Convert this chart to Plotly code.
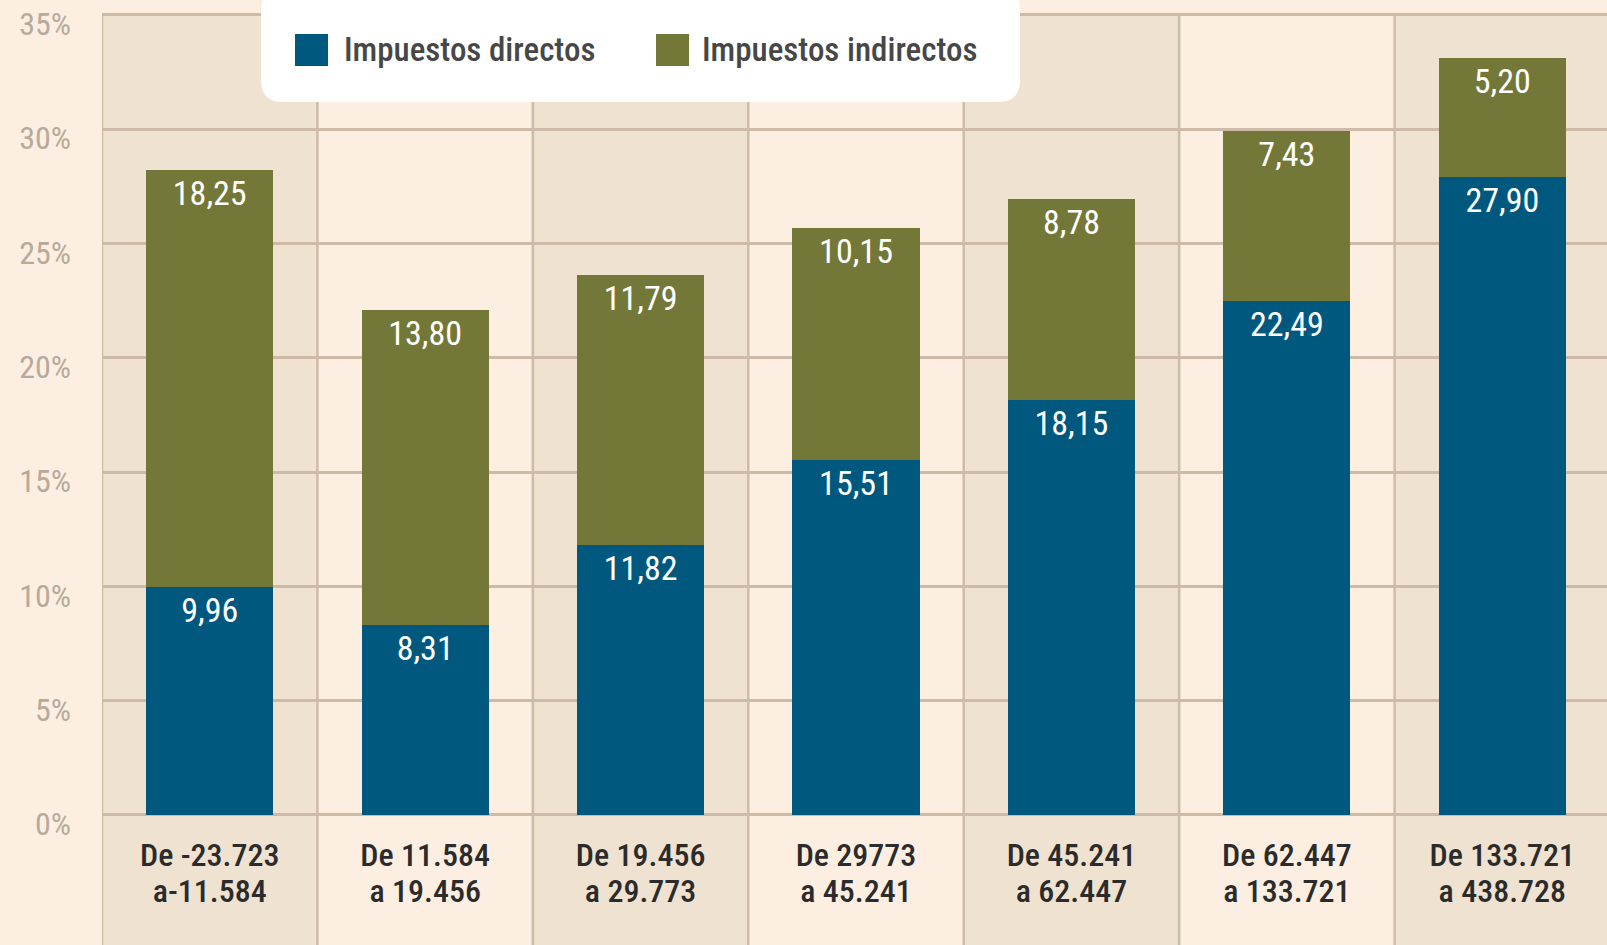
import plotly.graph_objects as go

rango_desde = ["De -23.723", "De 11.584", "De 19.456", "De 29773", "De 45.241", "De 62.447", "De 133.721"]
rango_hasta = ["a-11.584", "a 19.456", "a 29.773", "a 45.241", "a 62.447", "a 133.721", "a 438.728"]
directos = [9.96, 8.31, 11.82, 15.51, 18.15, 22.49, 27.90]
indirectos = [18.25, 13.80, 11.79, 10.15, 8.78, 7.43, 5.20]
y_ticks = [0, 5, 10, 15, 20, 25, 30, 35]
y_ticktext = ["0%", "5%", "10%", "15%", "20%", "25%", "30%", "35%"]

FONT = "Roboto Condensed, Liberation Sans Narrow, DejaVu Sans Condensed, Roboto, sans-serif"
BLUE = "#01587f"
OLIVE = "#737838"
GRID = "#cdbba8"
DARK_BAND = "#f0e2d1"
LIGHT_BAND = "#fcefe2"

W, H = 1607, 945
ML, MT = 102, 8
Y_TOP = 35
Y_MIN, Y_MAX = -5.69, 35.3
X_MIN, X_MAX = -0.5, 6.486

xs = list(range(len(rango_desde)))

fig = go.Figure()
fig.add_trace(go.Bar(
    x=xs, y=directos, name="Impuestos directos", marker=dict(color=BLUE, line=dict(width=0)),
    text=[f"{v:.2f}".replace(".", ",") for v in directos],
    textposition="inside", insidetextanchor="end", textangle=0,
    textfont=dict(color="white", size=34, family=FONT), showlegend=False,
))
fig.add_trace(go.Bar(
    x=xs, y=indirectos, name="Impuestos indirectos", marker=dict(color=OLIVE, line=dict(width=0)),
    text=[f"{v:.2f}".replace(".", ",") for v in indirectos],
    textposition="inside", insidetextanchor="end", textangle=0,
    textfont=dict(color="white", size=34, family=FONT), showlegend=False,
))
# invisible helper trace so the second (lower) category axis line is rendered
fig.add_trace(go.Scatter(
    x=xs, y=[0] * len(xs), xaxis="x2", yaxis="y", mode="markers",
    marker=dict(opacity=0, size=1), hoverinfo="skip", showlegend=False,
))

shapes = []
for i in xs:
    shapes.append(dict(type="rect", xref="x", yref="y", x0=i - 0.5, x1=i + 0.5,
                       y0=Y_MIN, y1=Y_TOP, fillcolor=DARK_BAND if i % 2 == 0 else LIGHT_BAND,
                       line=dict(width=0), layer="below"))
for i in xs + [len(xs)]:
    shapes.append(dict(type="line", xref="x", yref="y", x0=i - 0.5, x1=i - 0.5,
                       y0=Y_MIN, y1=Y_TOP, line=dict(color=GRID, width=2.5), layer="below"))

# legend box (rounded, white)
pw = W - ML
ph = H - MT
def px_x(p):
    return (p - ML) / pw
def px_y(p):
    return (H - p) / ph
x0, x1 = px_x(261), px_x(1020)
y0, y1 = px_y(102), px_y(-12)
rx, ry = 22 / pw, 22 / ph
path = (f"M{x0+rx},{y0} L{x1-rx},{y0} Q{x1},{y0} {x1},{y0+ry} L{x1},{y1-ry} Q{x1},{y1} {x1-rx},{y1} "
        f"L{x0+rx},{y1} Q{x0},{y1} {x0},{y1-ry} L{x0},{y0+ry} Q{x0},{y0} {x0+rx},{y0} Z")
shapes.append(dict(type="path", xref="paper", yref="paper", path=path,
                   fillcolor="white", line=dict(width=0), layer="above"))
legend_items = [("Impuestos directos", BLUE, 295, 342), ("Impuestos indirectos", OLIVE, 656, 700)]
annotations = []
for label, col, sx, tx in legend_items:
    shapes.append(dict(type="rect", xref="paper", yref="paper",
                       x0=px_x(sx), x1=px_x(sx + 33), y0=px_y(66), y1=px_y(34),
                       fillcolor=col, line=dict(width=0), layer="above"))
    annotations.append(dict(xref="paper", yref="paper", x=px_x(tx), y=px_y(50),
                            xanchor="left", yanchor="middle", text=label, showarrow=False,
                            font=dict(family=FONT, size=33, color="#474747", weight=500)))

pos0 = (0 - Y_MIN) / (Y_MAX - Y_MIN)
xfont = dict(family=FONT, size=32, color="#2b2b2b", weight=500)
fig.update_layout(
    width=W, height=H,
    margin=dict(l=ML, r=0, t=MT, b=0, autoexpand=False),
    paper_bgcolor=LIGHT_BAND, plot_bgcolor=LIGHT_BAND,
    barmode="stack", bargap=0.41,
    separators=",.",
    shapes=shapes, annotations=annotations,
    showlegend=False,
    xaxis=dict(range=[X_MIN, X_MAX], tickvals=xs, ticktext=rango_desde, showgrid=False,
               zeroline=False, showline=False, ticks="", anchor="free", automargin=False,
               position=pos0, ticklabelstandoff=18, tickfont=xfont),
    xaxis2=dict(range=[X_MIN, X_MAX], tickvals=xs, ticktext=rango_hasta, showgrid=False,
                zeroline=False, showline=False, ticks="", anchor="free", overlaying="x",
                automargin=False,
                side="bottom", position=pos0, ticklabelstandoff=54, tickfont=xfont),
    yaxis=dict(range=[Y_MIN, Y_MAX], tickvals=y_ticks, ticktext=y_ticktext, showgrid=True,
               gridcolor=GRID, gridwidth=2.5, zeroline=False, showline=False, ticks="",
               ticklabeloverflow="allow", automargin=False, ticklabelshift=9,
               ticklabelstandoff=30, tickfont=dict(family=FONT, size=32, color="#b8aa9a")),
)

fig.write_html("out.html", config={"displayModeBar": False},
               post_script="document.body.style.margin='0';document.body.style.background='#fcefe2';")
